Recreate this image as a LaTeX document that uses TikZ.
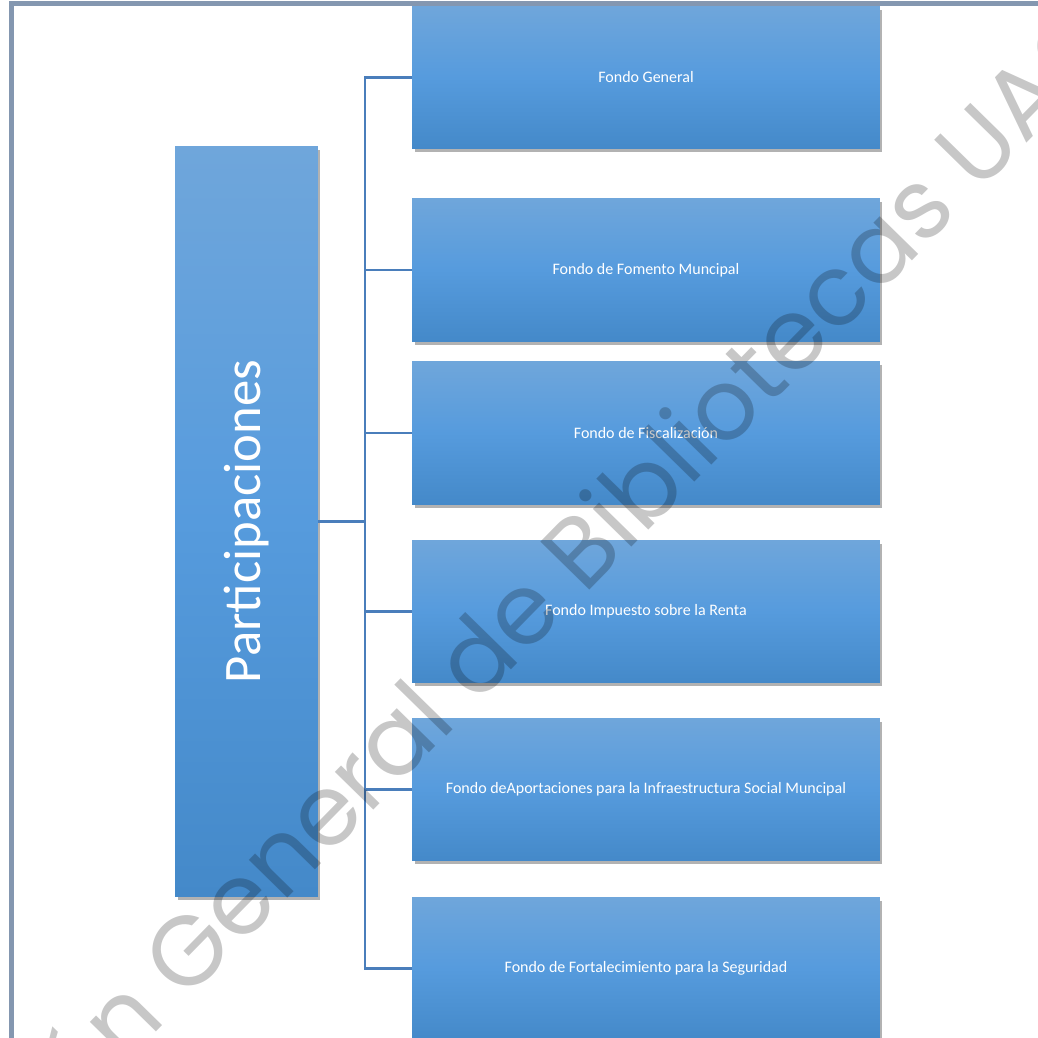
\documentclass[tikz,border=0pt]{standalone}
\usepackage{fontspec}
\setmainfont{Carlito}
\newfontfamily\wmfont{Poppins}
\usetikzlibrary{shadows,positioning}
\definecolor{fundTop}{HTML}{6FA6DB}
\definecolor{fundMid}{HTML}{569BDD}
\definecolor{fundBot}{HTML}{4489C9}
\definecolor{connBlue}{HTML}{4A7EBB}
\definecolor{frameGray}{HTML}{8497B0}
\tikzset{
  boxFondo/.style={ top color=fundTop, bottom color=fundBot, middle color=fundMid,
    minimum width=9.36cm, minimum height=2.86cm, inner sep=0pt, text=white,
    font=\fontsize{9.1}{11}\selectfont,
    drop shadow={shadow xshift=0.05cm, shadow yshift=-0.07cm, opacity=0.3, fill=black} }
}
\tikzset{
  boxMain/.style={ boxFondo, minimum width=2.86cm, minimum height=15.02cm,
    font=\fontsize{30}{36}\selectfont }
}
\tikzset{
  conn/.style={ draw=connBlue, line width=1.3pt }
}
\tikzset{
  wmark/.style={ text=black, text opacity=0.22, font=\wmfont\fontsize{56}{60}\selectfont }
}

\begin{document}
\begin{tikzpicture}[x=0.02cm, y=-0.02cm]
      \useasboundingbox (0,0) rectangle (1038,1038);
      \fill[white] (0,0) rectangle (1038,1038);
      \draw[frameGray, line width=2.3pt] (11.5,3.5) rectangle (1080,1080);

      \node[boxMain] (part) at (246.5,521.5) {\rotatebox{90}{Participaciones}};

      \node[boxFondo] (F1) at (646,77.5) {Fondo General};
      \node[boxFondo] (F2) at (646,270) {Fondo de Fomento Muncipal};
      \node[boxFondo] (F3) at (646,433) {Fondo de Fiscalización};
      \node[boxFondo] (F4) at (646,611.5) {Fondo Impuesto sobre la Renta};
      \node[boxFondo] (F5) at (646,789.5) {Fondo deAportaciones para la Infraestructura Social Muncipal};
      \node[boxFondo] (F6) at (646,968.5) {Fondo de Fortalecimiento para la Seguridad};

      \coordinate (bus) at (365,521.5);

      \begin{scope}[conn]
        \draw (part) -- (bus);
        \foreach \f in {F1,F2,F3,F4,F5,F6}
          \draw (bus) |- (\f);
      \end{scope}

      % watermark
      \node[wmark, rotate=45.6] (wm) at (462,674) {Dirección General de Bibliotecas UAQ};
    \end{tikzpicture}
\end{document}
